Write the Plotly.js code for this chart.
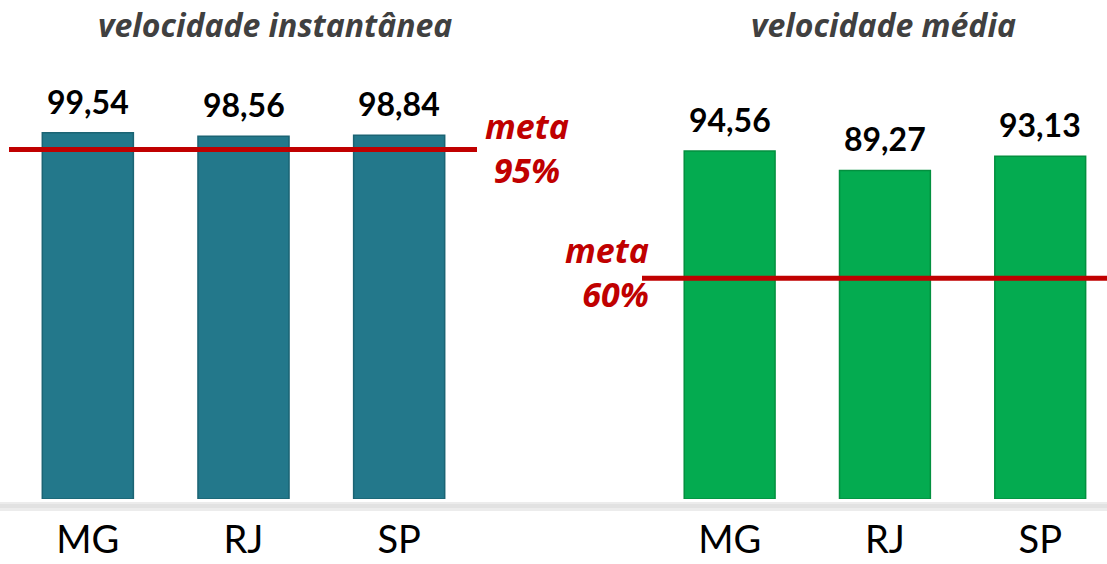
<!DOCTYPE html>
<html>
<head>
<meta charset="utf-8">
<script src="https://cdn.plot.ly/plotly-3.0.1.min.js"></script>
<style>html,body{margin:0;padding:0;background:#fff;}#chart{width:1107px;height:564px;}</style>
</head>
<body>
<div id="chart"></div>
<script>
// ---- data ----
const categories = ["MG", "RJ", "SP"];
const instantValues = [99.54, 98.56, 98.84];
const averageValues = [94.56, 89.27, 93.13];
const panelTitles = ["velocidade instantânea", "velocidade média"];
const metaValues = [95, 60];
const metaWord = "meta";

// ---- styles ----
const FONT = "Lato, 'Open Sans', sans-serif";
const FONT2 = "'Open Sans', Lato, sans-serif";
const TEAL = "#23788B";
const GREEN = "#04AB50";
const RED = "#C00000";
const H = 368; // plot height in px

function px2paper(py) { return (499 - py) / H; }

const traces = [
  {
    type: "bar", x: categories, y: instantValues, xaxis: "x", yaxis: "y",
    width: 0.585, marker: { color: TEAL, line: { color: "#1B6474", width: 1.5 } },
    hoverinfo: "x+y"
  },
  {
    type: "bar", x: categories, y: averageValues, xaxis: "x2", yaxis: "y",
    width: 0.585, marker: { color: GREEN, line: { color: "#03903F", width: 1.5 } },
    hoverinfo: "x+y"
  }
];

const annotations = [];
// value labels
[[instantValues, "x"], [averageValues, "x2"]].forEach(([vals, xr]) => {
  vals.forEach((v, i) => {
    annotations.push({
      xref: xr, yref: "y", x: categories[i], y: v,
      text: v.toFixed(2).replace(".", ","), showarrow: false,
      xanchor: "center", yanchor: "bottom", yshift: 10,
      font: { family: FONT, size: 32, color: "#000", weight: "bold" }
    });
  });
});
// panel titles
annotations.push({
  xref: "paper", yref: "paper", x: 275 / 1107, y: px2paper(24), xanchor: "center", yanchor: "middle",
  text: "<b><i>" + panelTitles[0] + "</i></b>", showarrow: false,
  font: { family: FONT2, size: 32, color: "#404040" }
});
annotations.push({
  xref: "paper", yref: "paper", x: 883 / 1107, y: px2paper(25), xanchor: "center", yanchor: "middle",
  text: "<b><i>" + panelTitles[1] + "</i></b>", showarrow: false,
  font: { family: FONT2, size: 32, color: "#404040" }
});
// meta labels
const metaPos = [
  { x: 527, y: 148, anchor: "center", align: "center" },
  { x: 651, y: 272, anchor: "right", align: "right" }
];
metaValues.forEach((m, k) => {
  const p = metaPos[k];
  annotations.push({
    xref: "paper", yref: "paper", x: p.x / 1107, y: px2paper(p.y), xanchor: p.anchor, yanchor: "middle",
    align: p.align,
    text: "<b><i>" + metaWord + "<br>" + m + "%</i></b>", showarrow: false,
    font: { family: FONT2, size: 34, color: RED }
  });
});

const shapes = [
  // grey floor band
  { type: "rect", xref: "paper", yref: "paper", x0: 0, x1: 1, y0: px2paper(511), y1: px2paper(502),
    fillcolor: "#ececec", line: { width: 0 }, layer: "below" },
  { type: "rect", xref: "paper", yref: "paper", x0: 0, x1: 1, y0: px2paper(508), y1: px2paper(504),
    fillcolor: "#e2e2e2", line: { width: 0 }, layer: "below" },
  // target lines
  { type: "line", xref: "paper", yref: "y", x0: 9 / 1107, x1: 477 / 1107, y0: metaValues[0], y1: metaValues[0],
    line: { color: RED, width: 5 } },
  { type: "line", xref: "paper", yref: "y", x0: 642 / 1107, x1: 1, y0: metaValues[1], y1: metaValues[1],
    line: { color: RED, width: 5 } }
];

const xaxisBase = {
  type: "category", showgrid: false, zeroline: false, showline: false, ticks: "",
  tickfont: { family: FONT, size: 38, color: "#000" }, ticklabelstandoff: 15, fixedrange: true
};

const layout = {
  width: 1107, height: 564,
  margin: { l: 0, r: 0, t: 131, b: 65, pad: 0 },
  paper_bgcolor: "#fff", plot_bgcolor: "rgba(0,0,0,0)",
  showlegend: false, separators: ",.",
  xaxis: Object.assign({}, xaxisBase, { domain: [10 / 1107, 477 / 1107], range: [-0.5, 2.5] }),
  xaxis2: Object.assign({}, xaxisBase, { domain: [652 / 1107, 1], range: [-0.5, 2.43], anchor: "y" }),
  yaxis: { range: [0, 100], showgrid: false, zeroline: false, showline: false, showticklabels: false, fixedrange: true },
  annotations: annotations,
  shapes: shapes
};

Plotly.newPlot("chart", traces, layout, { displayModeBar: false, staticPlot: true });
</script>
</body>
</html>
